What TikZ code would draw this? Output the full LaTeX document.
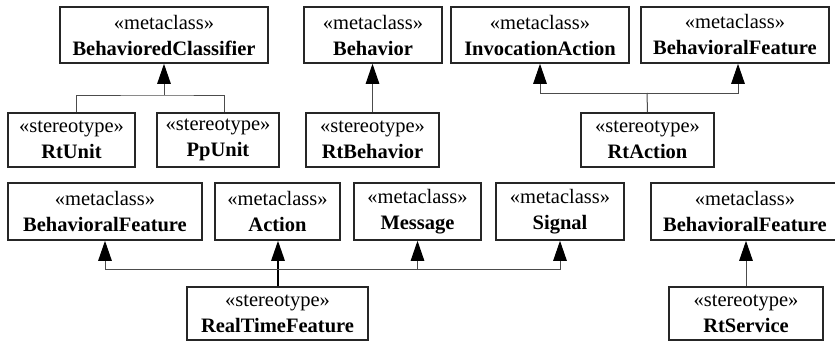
\documentclass[tikz,border=0pt]{standalone}
\usepackage{fontspec}
\setmainfont{Liberation Serif}
\usetikzlibrary{arrows.meta}

\tikzset{
  umlbox/.style={draw=black!85, line width=1.6pt, fill=white, inner sep=0pt,
    align=center, font=\rmfamily\fontsize{20.5}{26}\selectfont},
  conn/.style={draw=black!70, line width=1pt},
  gen/.style={conn, -{Triangle[length=20pt,width=13.5pt,color=black]}},
}
\newcommand{\meta}[1]{«metaclass»\\\textbf{#1}}
\newcommand{\stereo}[1]{«stereotype»\\\textbf{#1}}

\begin{document}
\begin{tikzpicture}[x=1pt,y=-1pt]
  \useasboundingbox (0,0) rectangle (835,341);

  % top row: metaclasses
  \node[umlbox, minimum width=208pt, minimum height=56pt] (bc)   at (164,35)   {\meta{BehavioredClassifier}};
  \node[umlbox, minimum width=138pt, minimum height=56pt] (beh)  at (373,35)   {\meta{Behavior}};
  \node[umlbox, minimum width=178pt, minimum height=56pt] (inv)  at (540,35)   {\meta{InvocationAction}};
  \node[umlbox, minimum width=188pt, minimum height=56pt] (bfa)  at (735,35)   {\meta{BehavioralFeature}};

  % second row: stereotypes
  \node[umlbox, minimum width=127pt, minimum height=54pt] (rtu)  at (71.5,140) {\stereo{RtUnit}};
  \node[umlbox, minimum width=122pt, minimum height=54pt] (ppu)  at (218,140)  {\stereo{PpUnit}};
  \node[umlbox, minimum width=133pt, minimum height=54pt] (rtb)  at (372.5,140) {\stereo{RtBehavior}};
  \node[umlbox, minimum width=133pt, minimum height=54pt] (rta)  at (647.5,140) {\stereo{RtAction}};

  % third row: metaclasses
  \node[umlbox, minimum width=194pt, minimum height=57pt] (bfb)  at (105,211.5)  {\meta{BehavioralFeature}};
  \node[umlbox, minimum width=125pt, minimum height=57pt] (act)  at (277.5,211.5) {\meta{Action}};
  \node[umlbox, minimum width=127pt, minimum height=57pt] (msg)  at (417.5,211.5) {\meta{Message}};
  \node[umlbox, minimum width=128pt, minimum height=57pt] (sig)  at (560,211.5)  {\meta{Signal}};
  \node[umlbox, minimum width=188pt, minimum height=57pt] (bfc)  at (745,211.5)  {\meta{BehavioralFeature}};

  % bottom row: stereotypes
  \node[umlbox, minimum width=181pt, minimum height=53pt] (rtf)  at (277.5,313.5) {\stereo{RealTimeFeature}};
  \node[umlbox, minimum width=154pt, minimum height=53pt] (rts)  at (746,313.5)   {\stereo{RtService}};

  % junction points of the shared generalization lines
  \coordinate (j1) at (164,95);
  \coordinate (j2) at (647,93);
  \coordinate (j3) at (278,269);

  % RtUnit, PpUnit -> BehavioredClassifier
  \draw[conn] ([xshift=4.5pt]rtu.north) |- (j1) -| ([xshift=6pt]ppu.north);
  \draw[gen] (j1) -- (bc.south);

  % RtBehavior -> Behavior
  \draw[gen] (rtb.north) -- (rtb.north |- beh.south);

  % RtAction -> InvocationAction, BehavioralFeature
  \draw[conn] (rta.north) -- (j2);
  \draw[gen] (j2) -| (inv.south);
  \draw[gen] (j2) -| ([xshift=3pt]bfa.south);

  % RealTimeFeature -> BehavioralFeature, Action, Message, Signal
  \draw[gen, line width=1.3pt, draw=black] ([xshift=0.5pt]rtf.north) -- ([xshift=0.5pt]act.south);
  \draw[gen] (j3) -| (bfb.south);
  \draw[gen] (j3) -| (msg.south);
  \draw[gen] (j3) -| (sig.south);

  % RtService -> BehavioralFeature
  \draw[gen] (rts.north) -- (rts.north |- bfc.south);
\end{tikzpicture}
\end{document}
